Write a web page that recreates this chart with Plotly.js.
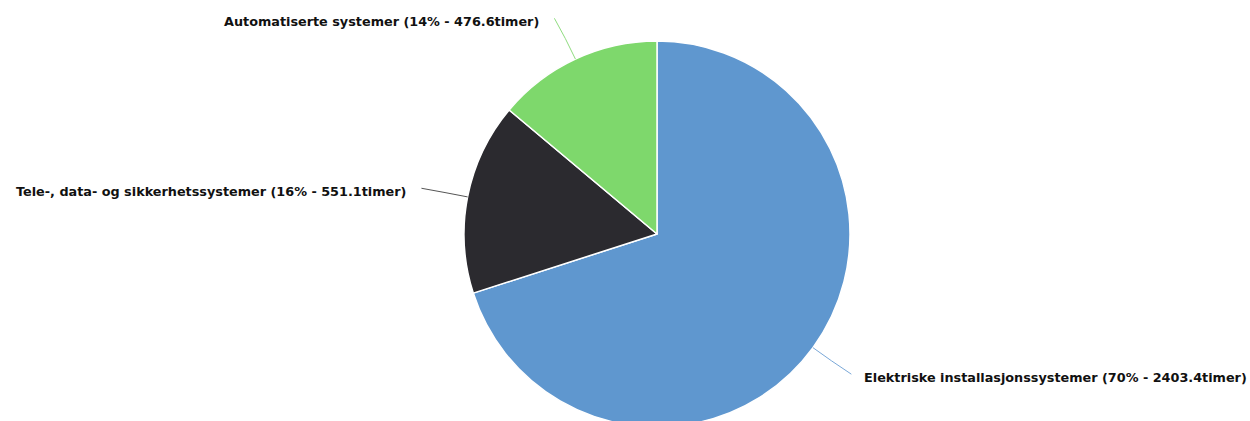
<!DOCTYPE html>
<html>
<head>
<meta charset="utf-8">
<script src="https://cdn.plot.ly/plotly-3.0.1.min.js"></script>
<style>
html,body{margin:0;padding:0;background:#fff;overflow:hidden;}
#chart{width:1250px;height:440px;}
</style>
</head>
<body>
<div id="chart"></div>
<script>
// Data
var categories = ["Elektriske installasjonssystemer", "Tele-, data- og sikkerhetssystemer", "Automatiserte systemer"];
var hours = [2403.4, 551.1, 476.6];
var percentLabels = ["70%", "16%", "14%"];
var hourLabels = ["2403.4", "551.1", "476.6"];
var sliceColors = ["#5f97cf", "#2b2a2f", "#7ed86c"];
var lineColors = ["#7aa8d8", "#555555", "#8fdc7f"];

// Layout geometry (pixels)
var W = 1250, H = 440;
var cx = 657, cy = 234, R = 193;
var lineLen = 45;

var total = hours.reduce(function(a,b){return a+b;},0);
var annotations = [], shapes = [];
var cum = 0;
for (var i = 0; i < hours.length; i++) {
  var frac = hours[i] / total;
  var mid = (cum + frac / 2) * 2 * Math.PI; // clockwise from top
  cum += frac;
  var dx = Math.sin(mid), dy = -Math.cos(mid);
  var x0 = cx + R * dx, y0 = cy + R * dy;
  var x1 = cx + (R + lineLen) * dx, y1 = cy + (R + lineLen) * dy;
  var xm = cx + (R + lineLen * 0.5) * dx, ym = cy + (R + lineLen * 0.5) * dy;
  var right = dx >= 0;
  shapes.push({
    type: "path", xref: "paper", yref: "paper",
    path: "M " + (x0 / W) + "," + (1 - y0 / H) + " Q " + (xm / W) + "," + (1 - ym / H) + " " + ((x1 + (right ? 2 : -2)) / W) + "," + (1 - y1 / H),
    line: {color: lineColors[i], width: 1}
  });
  annotations.push({
    xref: "paper", yref: "paper",
    x: (x1 + (right ? 13 : -15)) / W,
    y: 1 - (y1 + 3) / H,
    xanchor: right ? "left" : "right",
    yanchor: "middle",
    showarrow: false,
    text: "<b>" + categories[i] + " (" + percentLabels[i] + " - " + hourLabels[i] + "timer)</b>",
    font: {family: "DejaVu Sans, sans-serif", size: 12.8, color: "#111111"}
  });
}

var trace = {
  type: "pie",
  labels: categories,
  values: hours,
  sort: false,
  direction: "clockwise",
  rotation: 0,
  textinfo: "none",
  hoverinfo: "label+value+percent",
  marker: {colors: sliceColors, line: {color: "#ffffff", width: 1.5}},
  domain: {
    x: [(cx - R) / W, (cx + R) / W],
    y: [1 - (cy + R) / H, 1 - (cy - R) / H]
  }
};

var layout = {
  width: W, height: H,
  margin: {l: 0, r: 0, t: 0, b: 0},
  paper_bgcolor: "#ffffff",
  showlegend: false,
  annotations: annotations,
  shapes: shapes
};

Plotly.newPlot("chart", [trace], layout, {displayModeBar: false, staticPlot: true});
</script>
</body>
</html>
